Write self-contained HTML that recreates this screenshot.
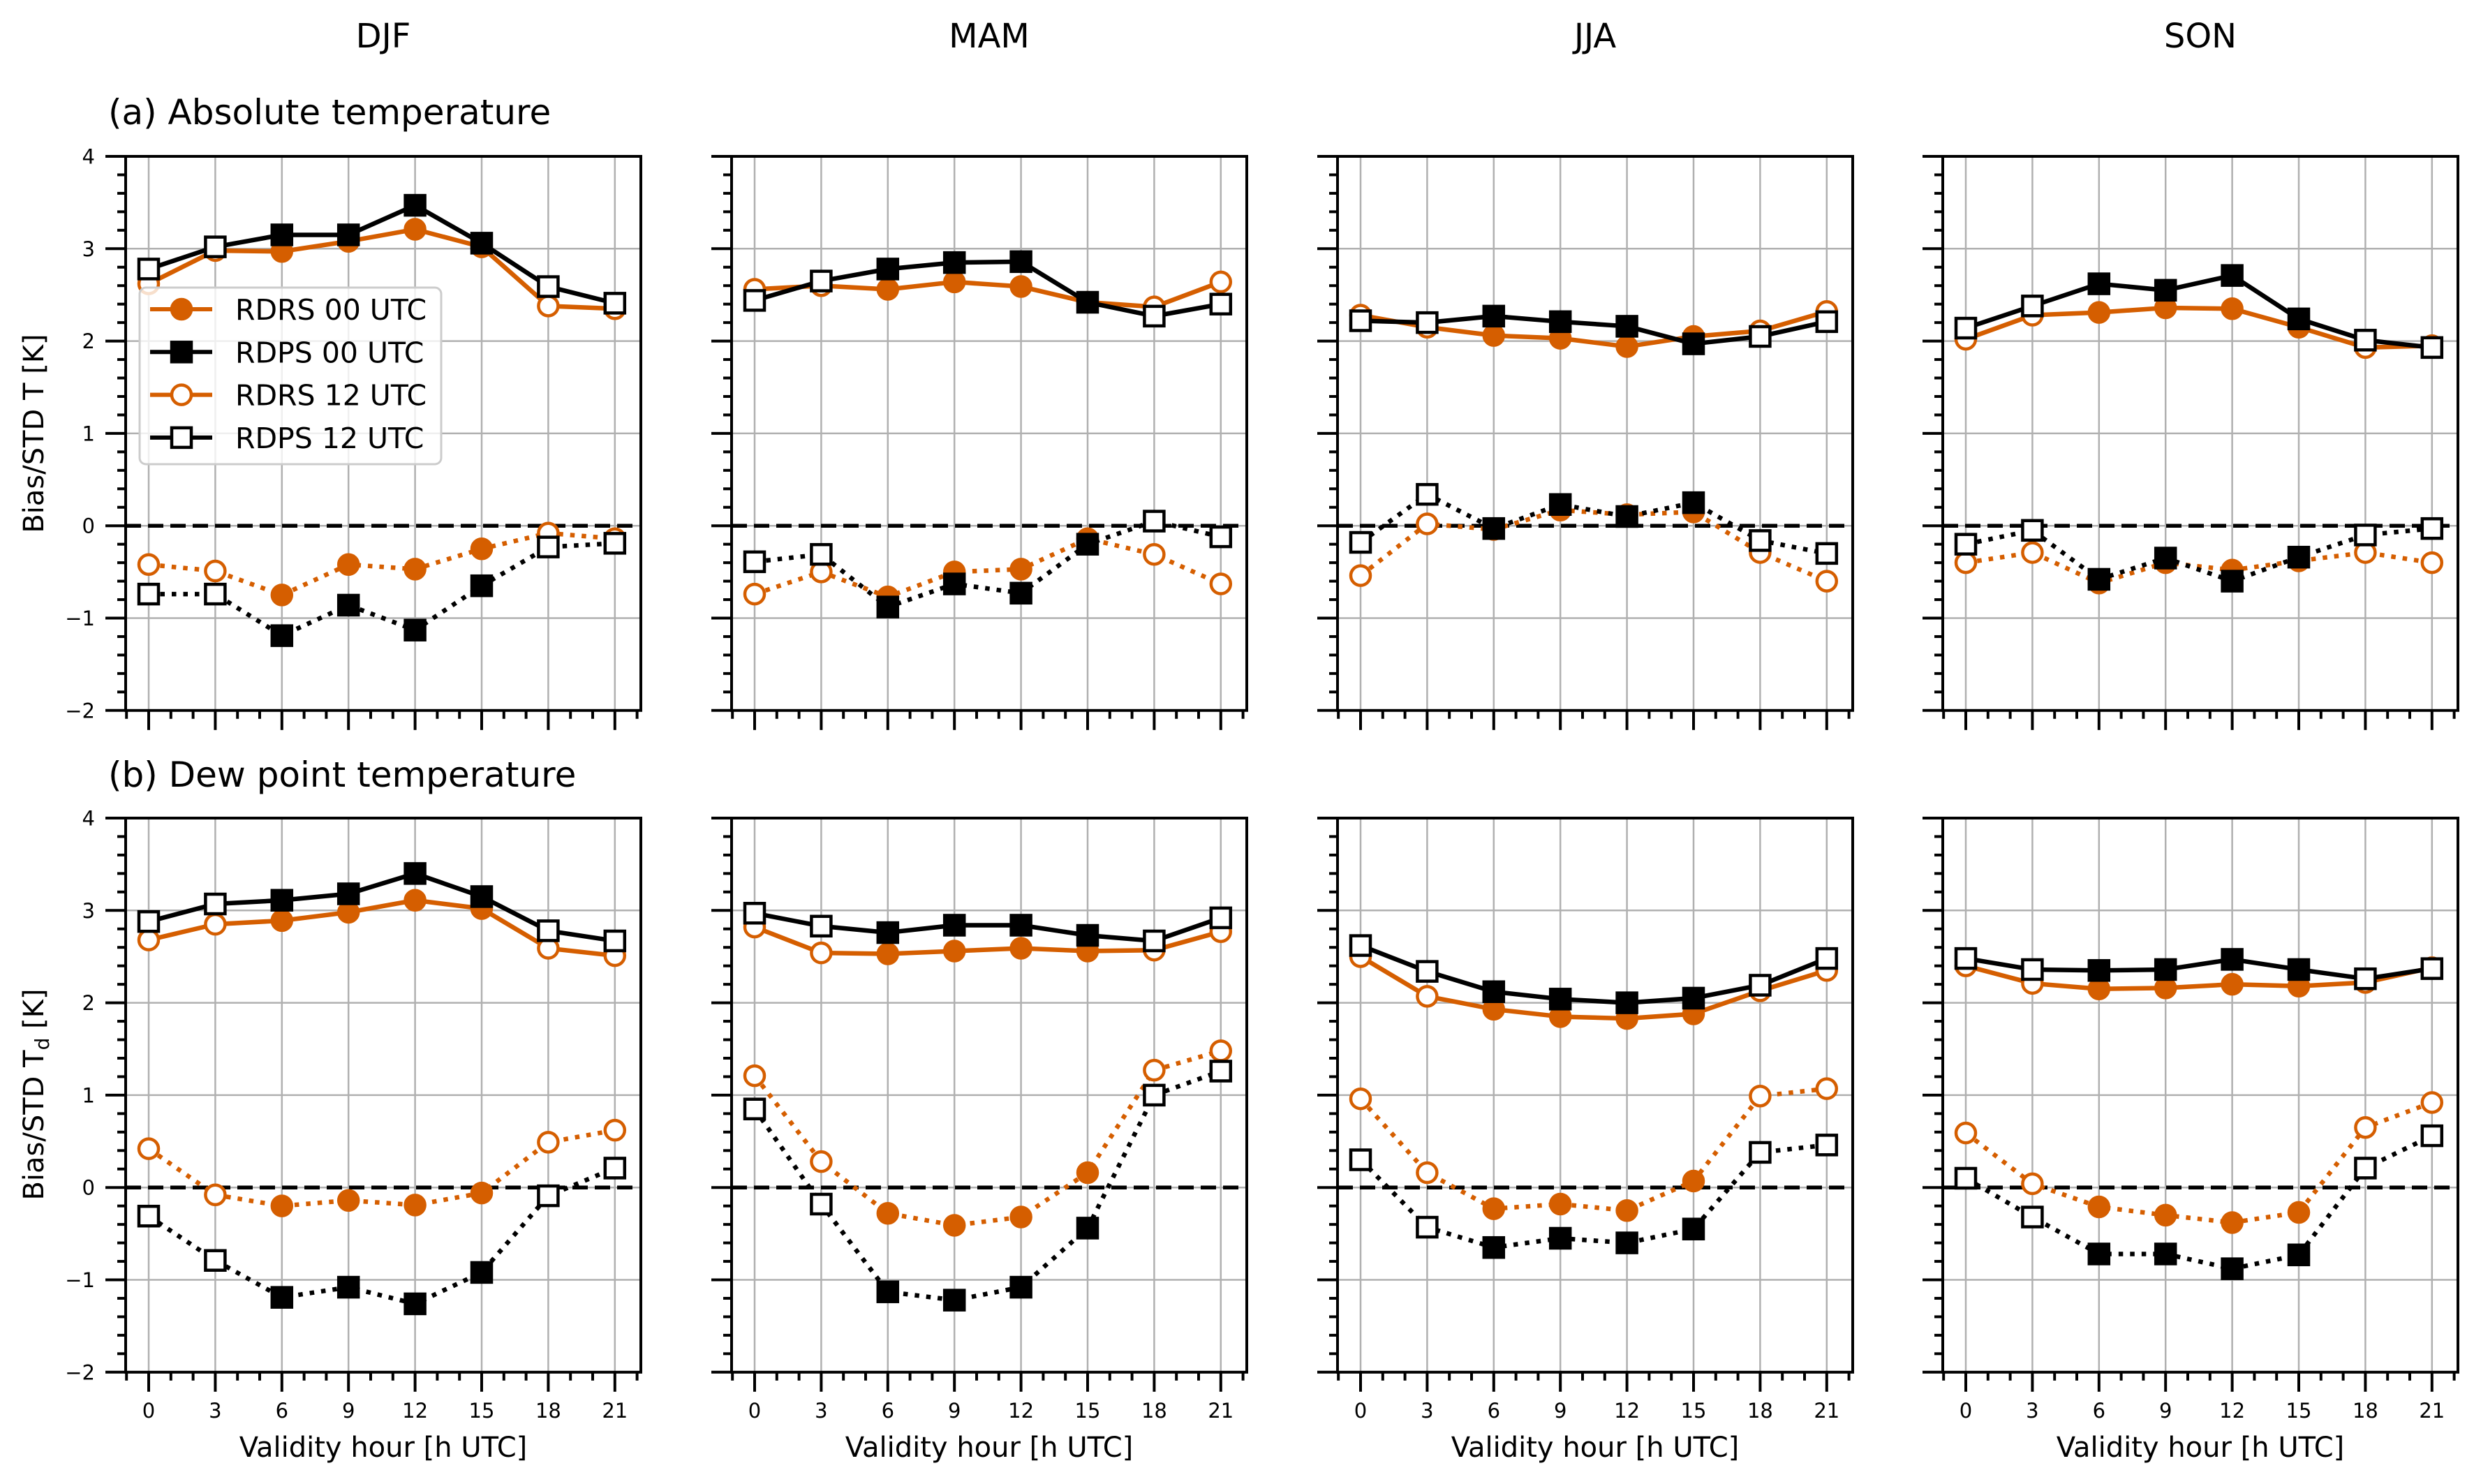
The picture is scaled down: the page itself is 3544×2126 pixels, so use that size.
<!DOCTYPE html>
<html><head><meta charset="utf-8"><style>
html,body{margin:0;padding:0;background:#fff;}
svg{display:block;font-family:"DejaVu Sans","Liberation Sans",sans-serif;}
</style></head><body>
<svg id="s" width="3544" height="2126" viewBox="0 0 3544 2126" xmlns="http://www.w3.org/2000/svg"></svg>
<script>
const S=document.getElementById('s');let h='';
const OR='#d55e00';
const lefts=[180,1048,1916,2783],W=738;
const tops=[224,1172],U=132.3;
const hrs=[0,3,6,9,12,15,18,21];
const D={
0:[
 {rs:[2.62,2.98,2.97,3.08,3.21,3.02,2.38,2.35],ps:[2.78,3.02,3.15,3.15,3.47,3.06,2.59,2.41],rb:[-0.42,-0.49,-0.75,-0.42,-0.47,-0.25,-0.08,-0.14],pb:[-0.74,-0.74,-1.19,-0.86,-1.13,-0.65,-0.23,-0.19]},
 {rs:[2.56,2.60,2.56,2.64,2.59,2.42,2.37,2.64],ps:[2.44,2.65,2.78,2.85,2.86,2.42,2.27,2.40],rb:[-0.74,-0.50,-0.77,-0.50,-0.47,-0.14,-0.31,-0.63],pb:[-0.39,-0.31,-0.88,-0.63,-0.73,-0.20,0.05,-0.12]},
 {rs:[2.28,2.15,2.06,2.03,1.94,2.05,2.11,2.32],ps:[2.22,2.20,2.27,2.21,2.16,1.97,2.05,2.21],rb:[-0.54,0.02,-0.04,0.17,0.12,0.15,-0.29,-0.60],pb:[-0.18,0.34,-0.03,0.23,0.10,0.25,-0.16,-0.30]},
 {rs:[2.02,2.28,2.31,2.36,2.35,2.15,1.93,1.95],ps:[2.14,2.38,2.62,2.55,2.71,2.24,2.01,1.93],rb:[-0.40,-0.29,-0.62,-0.40,-0.48,-0.38,-0.29,-0.40],pb:[-0.20,-0.05,-0.58,-0.35,-0.60,-0.34,-0.10,-0.03]}],
1:[
 {rs:[2.68,2.85,2.89,2.98,3.11,3.02,2.59,2.51],ps:[2.88,3.07,3.11,3.18,3.40,3.15,2.78,2.67],rb:[0.42,-0.08,-0.20,-0.14,-0.19,-0.06,0.49,0.62],pb:[-0.31,-0.79,-1.19,-1.08,-1.26,-0.92,-0.09,0.21]},
 {rs:[2.82,2.54,2.53,2.56,2.59,2.56,2.57,2.77],ps:[2.97,2.83,2.76,2.84,2.84,2.73,2.67,2.92],rb:[1.21,0.28,-0.28,-0.41,-0.32,0.16,1.27,1.48],pb:[0.85,-0.18,-1.13,-1.22,-1.08,-0.44,1.00,1.26]},
 {rs:[2.50,2.07,1.93,1.85,1.83,1.88,2.13,2.35],ps:[2.62,2.34,2.12,2.04,2.00,2.05,2.19,2.48],rb:[0.96,0.16,-0.23,-0.18,-0.25,0.07,0.99,1.07],pb:[0.30,-0.43,-0.65,-0.55,-0.60,-0.45,0.38,0.46]},
 {rs:[2.40,2.21,2.15,2.16,2.20,2.18,2.22,2.38],ps:[2.48,2.36,2.35,2.36,2.47,2.36,2.26,2.37],rb:[0.59,0.04,-0.21,-0.30,-0.38,-0.27,0.65,0.92],pb:[0.10,-0.32,-0.72,-0.72,-0.88,-0.73,0.21,0.56]}]};
function mk(x,y,sq,col,filled){
 const f=filled?col:'#fff';
 if(sq) return `<rect x="${x-14}" y="${y-14}" width="28" height="28" fill="${f}" stroke="${col}" stroke-width="4.5"/>`;
 return `<circle cx="${x}" cy="${y}" r="14" fill="${f}" stroke="${col}" stroke-width="4.5"/>`;
}
const titles=['DJF','MAM','JJA','SON'];
for(let r=0;r<2;r++)for(let c=0;c<4;c++){
 const L=lefts[c],T=tops[r],B=T+6*U,R=L+W;
 const X=hh=>L+33+hh*31.8, Y=v=>T+(4-v)*U;
 for(const hr of hrs)h+=`<line x1="${X(hr)}" y1="${T}" x2="${X(hr)}" y2="${B}" stroke="#b0b0b0" stroke-width="2.5"/>`;
 for(let v=-2;v<=4;v++)h+=`<line x1="${L}" y1="${Y(v)}" x2="${R}" y2="${Y(v)}" stroke="#b0b0b0" stroke-width="2.5"/>`;
 h+=`<line x1="${L}" y1="${Y(0)}" x2="${R}" y2="${Y(0)}" stroke="#000" stroke-width="5.5" stroke-dasharray="22,10"/>`;
 const d=D[r][c];
 const series=[[d.rb,OR,0,true],[d.pb,'#000',1,true],[d.rs,OR,0,false],[d.ps,'#000',1,false]];
 for(const [vals,col,sq,dot] of series){
  const pts=vals.map((v,i)=>X(hrs[i])+','+Y(v)).join(' ');
  h+=`<polyline points="${pts}" fill="none" stroke="${col}" stroke-width="6.5" ${dot?'stroke-dasharray="6.5,10"':''} stroke-linejoin="round"/>`;
 }
 for(const [vals,col,sq] of series){
  vals.forEach((v,i)=>{const hr=hrs[i];h+=mk(X(hr),Y(v),sq,col,hr>=6&&hr<=15);});
 }
 h+=`<rect x="${L}" y="${T}" width="${W}" height="${6*U}" fill="none" stroke="#000" stroke-width="4"/>`;
 for(let k=0;k<=30;k++){const v=-2+k*0.2,y=Y(v),maj=k%5==0;h+=`<line x1="${L-(maj?29:12)}" y1="${y}" x2="${L}" y2="${y}" stroke="#000" stroke-width="4"/>`;
  if(maj&&c==0){const t=Math.round(v);h+=`<text x="136" y="${y+10.5}" font-size="29" text-anchor="end">${t<0?'\u2212'+(-t):t}</text>`;}}
 for(let hr=-1;hr<=22;hr++){const maj=hr>=0&&hr%3==0&&hr<=21;h+=`<line x1="${X(hr)}" y1="${B}" x2="${X(hr)}" y2="${B+(maj?28:12)}" stroke="#000" stroke-width="4"/>`;
  if(maj&&r==1)h+=`<text x="${X(hr)}" y="2031" font-size="29" text-anchor="middle">${hr}</text>`;}
 if(r==1)h+=`<text x="${L+W/2}" y="2087" font-size="40" text-anchor="middle">Validity hour [h UTC]</text>`;
 if(r==0)h+=`<text x="${L+W/2}" y="68" font-size="48" text-anchor="middle">${titles[c]}</text>`;
}
h+=`<text x="155" y="178" font-size="50">(a) Absolute temperature</text>`;
h+=`<text x="155" y="1127" font-size="50">(b) Dew point temperature</text>`;
h+=`<text transform="translate(62,621) rotate(-90)" font-size="40" text-anchor="middle">Bias/STD T [K]</text>`;
h+=`<text transform="translate(62,1568) rotate(-90)" font-size="40" text-anchor="middle">Bias/STD T<tspan font-size="28" dy="8">d</tspan><tspan dy="-8"> [K]</tspan></text>`;
h+=`<rect x="200" y="412" width="432" height="253" rx="9" fill="#fff" fill-opacity="0.8" stroke="#cccccc" stroke-width="3"/>`;
const leg=[['RDRS 00 UTC',OR,0,1],['RDPS 00 UTC','#000',1,1],['RDRS 12 UTC',OR,0,0],['RDPS 12 UTC','#000',1,0]];
leg.forEach((e,i)=>{const y=443+i*61.3;h+=`<line x1="215" y1="${y}" x2="304" y2="${y}" stroke="${e[1]}" stroke-width="6"/>`+mk(260,y,e[2],e[1],e[3])+`<text x="337" y="${y+15}" font-size="41">${e[0]}</text>`;});
S.innerHTML=h;
</script>
</body></html>
